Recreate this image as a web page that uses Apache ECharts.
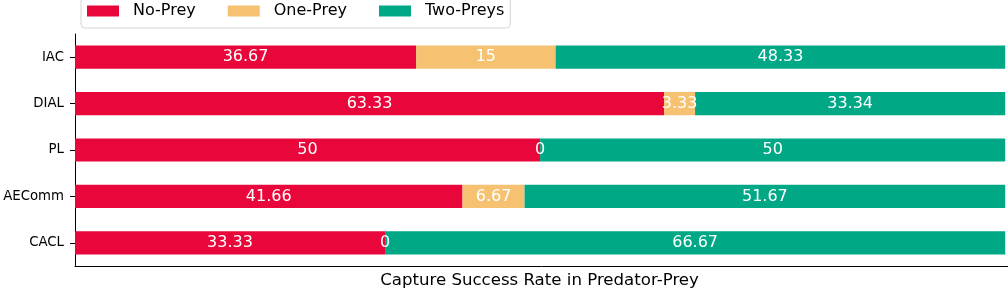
<!DOCTYPE html>
<html><head><meta charset="utf-8">
<script src="https://cdn.jsdelivr.net/npm/echarts@6/dist/echarts.min.js"></script>
<style>html,body{margin:0;padding:0;background:#fff}#c{width:1008px;height:292px}</style>
</head><body><div id="c"></div>
<script>
const categories = ['IAC', 'DIAL', 'PL', 'AEComm', 'CACL'];
const noPrey = [36.67, 63.33, 50, 41.66, 33.33];
const onePrey = [15, 3.33, 0, 6.67, 0];
const twoPreys = [48.33, 33.34, 50, 51.67, 66.67];
const seriesNames = ['No-Prey', 'One-Prey', 'Two-Preys'];
const colors = ['#E8063A', '#F6C272', '#00A886'];
const axisName = 'Capture Success Rate in Predator-Prey';

const font = 'DejaVu Sans';
const chart = echarts.init(document.getElementById('c'), null, {renderer: 'canvas'});
const mk = (name, data, color) => ({
  name, type: 'bar', stack: 'total', data, barWidth: '50%',
  itemStyle: {color},
  label: {show: true, position: 'inside', color: '#fff', fontFamily: font, fontSize: 16},
  animation: false
});
chart.setOption({
  animation: false,
  textStyle: {fontFamily: font},
  legend: {
    left: 81, top: -6,
    padding: [9, 6, 9, 6],
    itemGap: 32, itemWidth: 32, itemHeight: 11,
    icon: 'rect',
    borderColor: '#d5d5d5', borderWidth: 1, borderRadius: 4,
    textStyle: {fontFamily: font, fontSize: 16, color: '#000', padding: [0, 0, 0, 9]},
    data: seriesNames
  },
  grid: {left: 75, right: 0, top: 34, bottom: 26, containLabel: false, outerBoundsMode: 'none'},
  xAxis: {
    type: 'value', min: 0, max: 100.3,
    axisLine: {show: true, lineStyle: {color: '#000', width: 1}},
    axisTick: {show: false}, axisLabel: {show: false}, splitLine: {show: false},
    name: axisName, nameLocation: 'middle', nameGap: 6,
    nameTextStyle: {fontFamily: font, fontSize: 16.6, color: '#000', verticalAlign: 'top', padding: [0, 4, 0, 0]}
  },
  yAxis: {
    type: 'category', data: categories, inverse: true,
    axisLine: {show: true, lineStyle: {color: '#000', width: 1}},
    axisTick: {show: true, alignWithLabel: true, length: 5, lineStyle: {color: '#000'}},
    axisLabel: {fontFamily: font, fontSize: 13.3, color: '#000', margin: 11}
  },
  series: [mk(seriesNames[0], noPrey, colors[0]), mk(seriesNames[1], onePrey, colors[1]), mk(seriesNames[2], twoPreys, colors[2])]
});
</script></body></html>
